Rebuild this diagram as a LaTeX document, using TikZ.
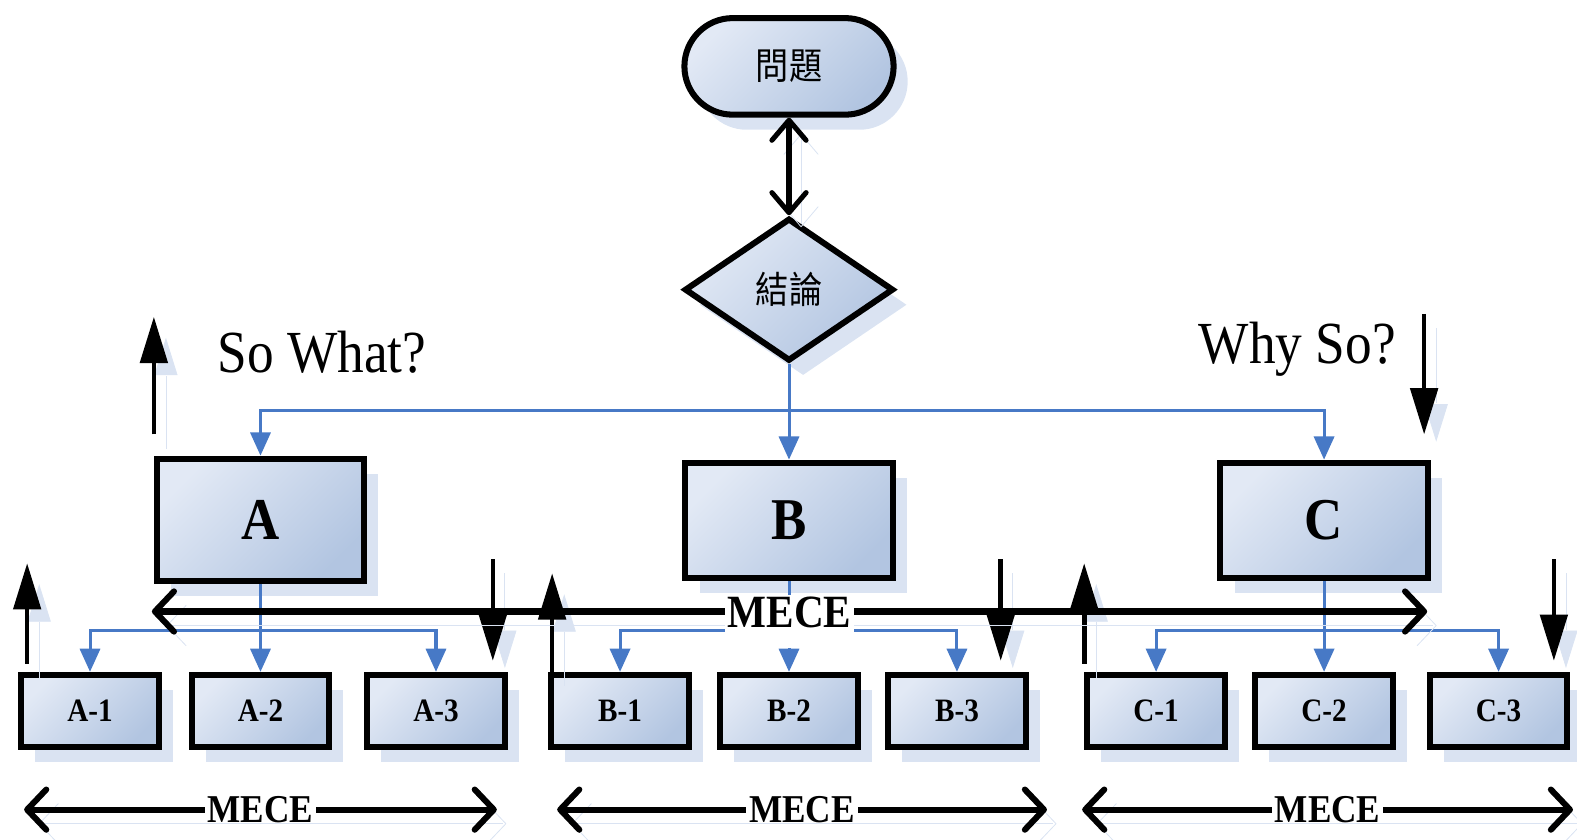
\documentclass[tikz,border=0pt]{standalone}
\usepackage{fontspec}
\setmainfont{Liberation Serif}
\newfontfamily\cjkfont{Noto Sans CJK TC}
\usetikzlibrary{arrows.meta,shapes.geometric,shapes.misc,shadows}
\definecolor{boxlight}{RGB}{226,233,245}
\definecolor{boxdark}{RGB}{178,197,225}
\definecolor{shadowc}{RGB}{218,227,242}
\definecolor{linkblue}{RGB}{71,121,198}
% slightly tall lettering
\newcommand\tallt[1]{\scalebox{1}[1.12]{#1}}
\begin{document}
\begin{tikzpicture}[x=0.5pt,y=-0.5pt,
  gradbox/.style={draw=black, line width=3pt, top color=boxlight, bottom color=boxdark,
    shading angle=45,
    drop shadow={shadow xshift=7pt, shadow yshift=-7.5pt, fill=shadowc, opacity=1},
    inner sep=0pt},
  bigbox/.style={gradbox, rectangle, minimum width=103pt, minimum height=57.5pt,
    font=\fontsize{26.3pt}{30pt}\selectfont\bfseries},
  subbox/.style={gradbox, rectangle, minimum width=68.5pt, minimum height=36pt,
    font=\fontsize{14.5pt}{17pt}\selectfont\bfseries},
  cjklabel/.style={font=\cjkfont\fontsize{16.5pt}{20pt}\selectfont},
  link/.style={draw=linkblue, line width=1.5pt, -{Triangle[length=11.5pt,width=10pt]}},
  lshadow/.style={preaction={draw=shadowc, transform canvas={shift={(6pt,-7pt)}}}},
  pointer/.style={lshadow, draw=black, line width=2.3pt, -{Triangle[length=23pt,width=13.5pt]}},
  meceline/.style={lshadow, draw=black, line width=3pt,
    {Straight Barb[length=9.5pt,width=20pt,round]}-{Straight Barb[length=9.5pt,width=20pt,round]}},
  mecelabel/.style={fill=white, inner xsep=1.5pt, inner ysep=0pt,
    font=\fontsize{17.5pt}{20pt}\selectfont\bfseries},
  talk/.style={font=\fontsize{26.5pt}{30pt}\selectfont, anchor=base, inner sep=0pt},
]
\useasboundingbox (0,0) rectangle (1568,835);

% problem and conclusion
\node[gradbox, rounded rectangle, minimum width=104pt, minimum height=48pt, cjklabel]
  (Q) at (784.5,66) {\tallt{問題}};
\node[gradbox, diamond, aspect=1.47, minimum width=104pt, minimum height=71pt, cjklabel]
  (D) at (784.5,288) {\tallt{結論}};

% key points
\node[bigbox, minimum height=61pt] (A) at (259,517) {\tallt{A}};
\node[bigbox] (B) at (784.5,517.5) {\tallt{B}};
\node[bigbox] (C) at (1316.5,517.5) {\tallt{C}};

% supporting facts
\node[subbox] (A1) at (89.5,707) {\tallt{A-1}};
\node[subbox] (A2) at (259,707) {\tallt{A-2}};
\node[subbox] (A3) at (433.5,707) {\tallt{A-3}};
\node[subbox] (B1) at (616.5,707) {\tallt{B-1}};
\node[subbox] (B2) at (784.5,707) {\tallt{B-2}};
\node[subbox] (B3) at (951.5,707) {\tallt{B-3}};
\node[subbox] (C1) at (1149.5,707) {\tallt{C-1}};
\node[subbox] (C2) at (1316.5,707) {\tallt{C-2}};
\node[subbox] (C3) at (1490,707) {\tallt{C-3}};

% tree links
\coordinate (busT) at (0,408);
\coordinate (busS) at (0,627);
\draw[link] (D.south) -- (D.south |- busT) -| (A.north);
\draw[link] (D.south) -- (B.north);
\draw[link] (D.south) -- (D.south |- busT) -| (C.north);
\foreach \p in {A,B,C}{
  \draw[link] (\p.south) -- (\p.south |- busS) -| (\p1.north);
  \draw[link] (\p.south) -- (\p2.north);
  \draw[link] (\p.south) -- (\p.south |- busS) -| (\p3.north);
}

% problem <-> conclusion
\draw[lshadow, draw=black, line width=2.5pt,
  {Straight Barb[length=10pt,width=17pt,round]}-{Straight Barb[length=10pt,width=17pt,round]}]
  (Q.south) -- (D.north);

% direction arrows
\coordinate (up0s) at (153,432);  \coordinate (up0e) at (153,315);
\coordinate (dn0s) at (1416,312); \coordinate (dn0e) at (1416,432);
\coordinate (up1s) at (27,660);   \coordinate (up1e) at (27,560);
\coordinate (dn1s) at (490,556);  \coordinate (dn1e) at (490,657);
\coordinate (up2s) at (549,668);  \coordinate (up2e) at (549,570);
\coordinate (dn2s) at (995,556);  \coordinate (dn2e) at (995,657);
\coordinate (up3s) at (1078,660); \coordinate (up3e) at (1078,560);
\coordinate (dn3s) at (1545,556); \coordinate (dn3e) at (1545,657);
\foreach \n in {0,1,2,3}{
  \draw[pointer] (up\n s) -- (up\n e);
  \draw[pointer] (dn\n s) -- (dn\n e);
}

\node[talk] (sowhat) at (320,370) {\tallt{So What?}};
\node[talk] (whyso) at (1290,361) {\tallt{Why So?}};

% MECE spans
\coordinate (mL) at (151,608);  \coordinate (mR) at (1419,608);
\coordinate (aL) at (24,805);   \coordinate (aR) at (494,805);
\coordinate (bL) at (554,805);  \coordinate (bR) at (1041,805);
\coordinate (cL) at (1076,805); \coordinate (cR) at (1564,805);
\draw[meceline] (mL) -- (mR);
\path (mL) -- node[mecelabel, font=\fontsize{20.5pt}{24pt}\selectfont\bfseries,
  anchor=base, yshift=-8pt, text height=16pt, text depth=10pt] (meceM) {\tallt{MECE}} (mR);
\draw[meceline] (aL) -- node[mecelabel] (meceA) {\tallt{MECE}} (aR);
\draw[meceline] (bL) -- node[mecelabel] (meceB) {\tallt{MECE}} (bR);
\draw[meceline] (cL) -- node[mecelabel] (meceC) {\tallt{MECE}} (cR);
\end{tikzpicture}
\end{document}
